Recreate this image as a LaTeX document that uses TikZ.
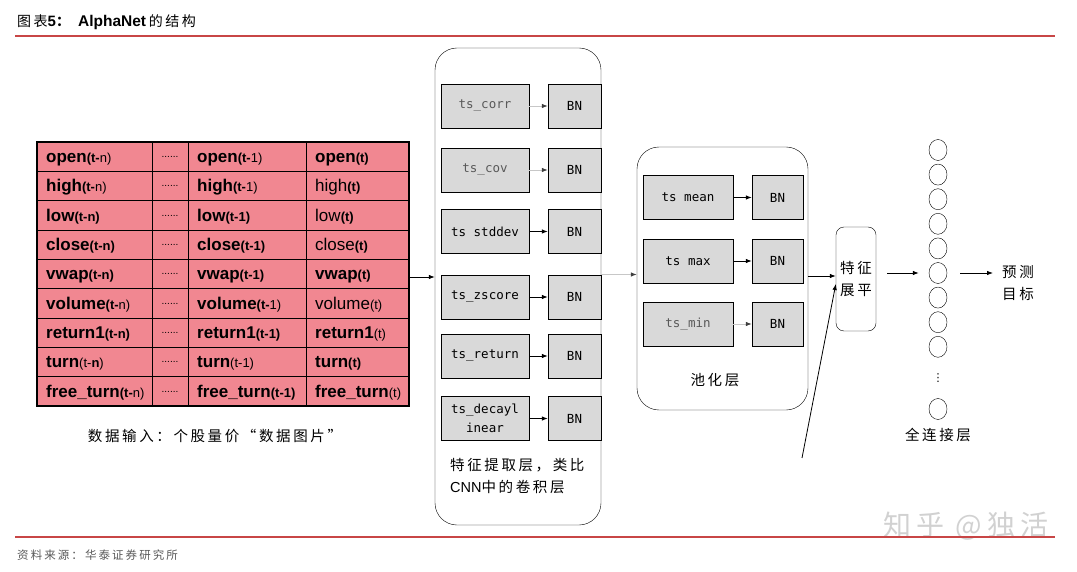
\documentclass[tikz,border=0pt]{standalone}
\usepackage{fontspec}
\setmainfont{Liberation Sans}
\setmonofont{DejaVu Sans Mono}
\newfontfamily\cjk[LetterSpace=18]{Noto Sans CJK SC}
\newfontfamily\symf{DejaVu Sans}
\usetikzlibrary{arrows.meta,shapes.geometric}

\definecolor{cellpink}{RGB}{241,135,145}
\definecolor{opgray}{RGB}{217,217,217}
\definecolor{rulered}{RGB}{200,70,70}

\newcommand{\fwb}[2]{{\fontsize{17}{17}\selectfont\bfseries #1}{\fontsize{13}{13}\selectfont #2}}
\newcommand{\fwr}[2]{{\fontsize{17}{17}\selectfont #1}{\fontsize{13}{13}\selectfont #2}}

\tikzset{
    opbox/.style={draw, fill=opgray, minimum width=88pt, minimum height=44pt, inner sep=0pt,
        align=center, font=\ttfamily\fontsize{12.5}{19}\selectfont},
    bnbox/.style={opbox, minimum width=53pt},
    layer/.style={draw, rounded corners=22pt, inner sep=0pt},
    neuron/.style={draw, ellipse, minimum width=18pt, minimum height=21pt, inner sep=0pt},
    flow/.style={-{Latex[length=6pt,width=4.5pt]}, thick},
    faint/.style={-{Latex[length=6pt,width=4.5pt,color=black!75]}, thick, draw=black!22},
    caption/.style={font=\cjk\fontsize{14.5}{22}\selectfont, inner sep=0pt},
    cell/.style={anchor=base west, inner sep=0pt},
    redrule/.style={draw=rulered, line width=1.3pt}
}

\begin{document}
\begin{tikzpicture}[x=1pt, y=-1pt]
    \useasboundingbox (0,0) rectangle (1077,572);

    % title and rules
    \node[anchor=west, inner sep=0pt] (ttl) at (17,22) {{\cjk\fontsize{14}{14}\selectfont 图表}{\fontsize{15}{15}\selectfont\bfseries 5}{\cjk\fontsize{14}{14}\selectfont\bfseries ：}\hspace{8pt}{\fontsize{15.5}{15}\selectfont\bfseries AlphaNet} {\cjk\fontsize{14}{14}\selectfont 的结构}};
    \draw[redrule] (15,36) -- (1055,36);

    % input table
    \node[draw, fill=cellpink, line width=1.2pt, minimum width=372pt, minimum height=264pt, inner sep=0pt] (inp) at (223,274) {};
    \foreach \x in {152,188,306}
        \draw[line width=0.9pt] (\x,142) -- (\x,406);
    \foreach \k in {1,...,8}
        \draw[line width=0.9pt] (37,{142+29.33*\k}) -- (409,{142+29.33*\k});

    \foreach \r/\cellA/\cellB/\cellC in {
        1/{\fwb{open}{\textbf{(t-}n)}}/{\fwb{open}{\textbf{(t-}1)}}/{\fwb{open}{\textbf{(t)}}},
        2/{\fwb{high}{\textbf{(t-}n)}}/{\fwb{high}{\textbf{(t-}1)}}/{\fwr{high}{\textbf{(t)}}},
        3/{\fwb{low}{\textbf{(t-n)}}}/{\fwb{low}{\textbf{(t-1)}}}/{\fwr{low}{\textbf{(t)}}},
        4/{\fwb{close}{\textbf{(t-n)}}}/{\fwb{close}{\textbf{(t-1)}}}/{\fwr{close}{\textbf{(t)}}},
        5/{\fwb{vwap}{\textbf{(t-n)}}}/{\fwb{vwap}{\textbf{(t-1)}}}/{\fwb{vwap}{\textbf{(t)}}},
        6/{\fwb{volume}{\textbf{(t-}n)}}/{\fwb{volume}{\textbf{(t-}1)}}/{\fwr{volume}{(t)}},
        7/{\fwb{return1}{\textbf{(t-n)}}}/{\fwb{return1}{\textbf{(t-1)}}}/{\fwb{return1}{(t)}},
        8/{\fwb{turn}{(t-\textbf{n})}}/{\fwb{turn}{(t-1)}}/{\fwb{turn}{\textbf{(t)}}},
        9/{\fwb{free\_turn}{\textbf{(t-}n)}}/{\fwb{free\_turn}{\textbf{(t-1)}}}/{\fwb{free\_turn}{(t)}}}
    {
        \node[cell] (a\r) at (46,{142+29.33*(\r-0.5)+6}) {\cellA};
        \node[anchor=base, inner sep=0pt] (d\r) at (170,{142+29.33*(\r-0.5)+1}) {\fontsize{10}{10}\selectfont ......};
        \node[cell] (b\r) at (197,{142+29.33*(\r-0.5)+6}) {\cellB};
        \node[cell] (c\r) at (315,{142+29.33*(\r-0.5)+6}) {\cellC};
    }
    \node[caption] (inpcap) at (215,436) {数据输入：个股量价“数据图片”};

    % feature extraction layer
    \node[layer, minimum width=166pt, minimum height=477pt] (feat) at (518,286.5) {};
    \foreach \nm/\txt/\y/\s/\tc in {corr/ts\_corr/106/faint/black!65, cov/ts\_cov/170/faint/black!65,
            std/ts stddev/231.5/flow/black, zs/ts\_zscore/297/flow/black,
            ret/ts\_return/356/flow/black, dec/{ts\_decayl\\inear}/418.5/flow/black}
    {
        \node[opbox, text=\tc] (\nm) at (485,\y) {\txt};
        \node[bnbox] (bn\nm) at (574.5,\y) {BN};
        \draw[\s] (\nm) -- (bn\nm);
    }
    \node[caption, align=left, anchor=north west] (featcap) at (450,458) {特征提取层，类比\\{\rmfamily CNN}中的卷积层};
    \draw[flow] ([yshift=-3pt]inp.east) -- ([yshift=-3pt]inp.east -| feat.west);

    % pooling layer
    \node[layer, minimum width=171pt, minimum height=263pt] (pool) at (722.5,278.5) {};
    \foreach \nm/\txt/\y/\s/\tc in {mean/ts mean/197.5/flow/black, max/ts max/261/flow/black, min/ts\_min/324/faint/black!65}
    {
        \node[opbox, text=\tc, minimum width=90pt] (\nm) at (688,\y) {\txt};
        \node[bnbox, minimum width=51pt] (bn\nm) at (777.5,\y) {BN};
        \draw[\s] (\nm) -- (bn\nm);
    }
    \node[caption] (poolcap) at (715,380) {池化层};
    \draw[faint] ([yshift=4pt]pool.west -| feat.east) -- ([yshift=4pt]pool.west);

    % flatten
    \node[layer, rounded corners=8pt, minimum width=40pt, minimum height=104pt, caption, align=center] (flat) at (856,279) {特征\\展平};
    \draw[flow] ([yshift=3pt]flat.west -| pool.east) -- ([yshift=3pt]flat.west);
    \coordinate (ext) at (802,458);
    \draw[flow] (ext) -- ([yshift=-5pt]flat.west);

    % fully connected layer
    \foreach \k in {1,...,9}
        \node[neuron] (n\k) at (938,{150+24.6*(\k-1)}) {};
    \node[inner sep=0pt, font=\symf\fontsize{11}{11}\selectfont] (vd) at (938,378) {⋮};
    \node[neuron] (n10) at (938,409) {};
    \node[caption] (fccap) at (938,435) {全连接层};
    \draw[flow, shorten <=11pt, shorten >=10pt] (flat.east |- n6) -- (n6.west);

    \node[caption, align=left] (tgt) at (1018,283) {预测\\目标};
    \draw[flow, shorten <=13pt, shorten >=9pt] (n6.east) -- (n6.east -| tgt.west);

    % footer
    \node[text=black!18, font=\cjk\fontsize{28}{28}\selectfont, inner sep=0pt] (wm) at (966,526) {知乎 @独活};
    \draw[redrule] (15,537) -- (1055,537);
    \node[anchor=west, inner sep=0pt, text=black!65, font=\cjk\fontsize{11.5}{12}\selectfont] (src) at (17,555) {资料来源：华泰证券研究所};
\end{tikzpicture}
\end{document}
